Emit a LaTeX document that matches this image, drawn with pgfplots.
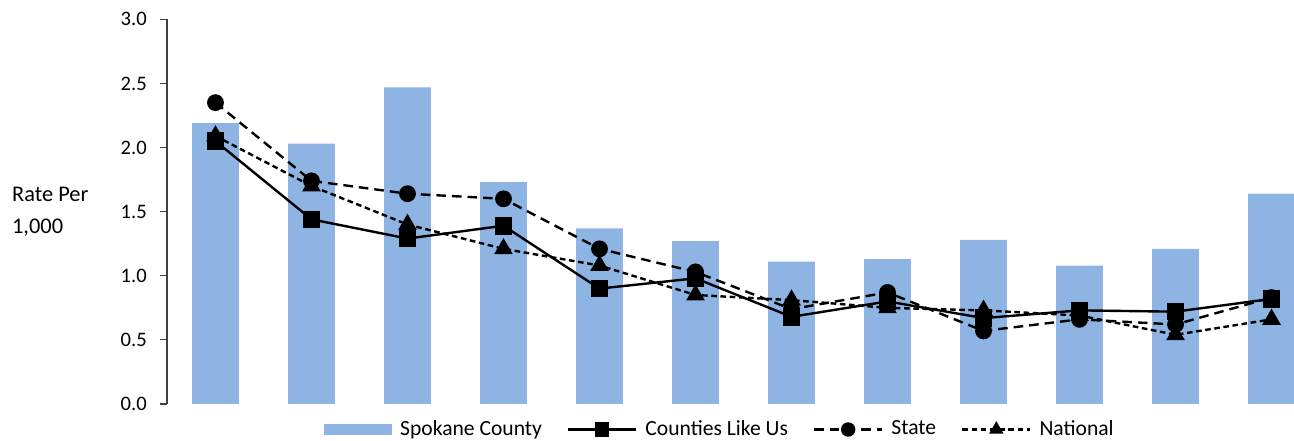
\documentclass[border=0pt]{standalone}
\usepackage{pgfplots}
\pgfplotsset{compat=1.18}
\usepackage{fontspec}
\setmainfont{Carlito}
\definecolor{barblue}{RGB}{142,180,227}
\definecolor{axgray}{RGB}{64,64,64}
\begin{document}
\fontsize{10.3bp}{12.4bp}\selectfont
\begin{tikzpicture}
\useasboundingbox (-83.5bp,-18.5bp) rectangle (563.5bp,202bp);
\begin{axis}[
  scale only axis,
  width=563.5bp, height=192.35bp,
  xmin=-0.505, xmax=11.234,
  ymin=0, ymax=3,
  ytick={0,0.5,1,1.5,2,2.5,3},
  yticklabel style={/pgf/number format/.cd, fixed, fixed zerofill, precision=1, /tikz/.cd, xshift=-3bp},
  /pgf/number format/assume math mode=true,
  axis lines*=left,
  x axis line style={draw=none},
  y axis line style={draw=axgray, line width=0.6bp},
  xtick=\empty,
  tick align=outside,
  major tick length=3.5bp,
  ytick style={draw=axgray, line width=0.6bp},
  clip=true,
  legend columns=4,
  legend style={draw=none, fill=none, at={(0.4915,-0.0663)}, anchor=center,
    font=\fontsize{10.8bp}{12.8bp}\selectfont,
    /tikz/every even column/.append style={column sep=10.5bp},
    /tikz/every odd column/.append style={column sep=2bp}},
  legend image code/.code={\draw[mark repeat=2,mark phase=2,#1,mark size=3bp] plot coordinates {(0bp,0bp) (17bp,0bp) (34bp,0bp)};},
]
\addplot[ybar, bar width=0.486, bar shift=0pt, fill=barblue, draw=none,
  legend image code/.code={\fill[barblue] (0bp,-2.9bp) rectangle (34bp,2.9bp);}]
  coordinates {(0,2.19) (1,2.03) (2,2.47) (3,1.73) (4,1.37) (5,1.27) (6,1.11) (7,1.13) (8,1.28) (9,1.08) (10,1.21) (11,1.64)};
\addlegendentry{Spokane County}
\addplot[black, line width=1.2bp, mark=square*, mark size=3.8bp, mark options={solid}]
  coordinates {(0,2.05) (1,1.44) (2,1.29) (3,1.39) (4,0.90) (5,0.98) (6,0.68) (7,0.80) (8,0.67) (9,0.73) (10,0.72) (11,0.82)};
\addlegendentry{Counties Like Us}
\addplot[black, line width=1.2bp, dash pattern=on 4.8bp off 3bp, mark=*, mark size=3.6bp, mark options={solid}]
  coordinates {(0,2.35) (1,1.74) (2,1.64) (3,1.60) (4,1.21) (5,1.03) (6,0.74) (7,0.87) (8,0.57) (9,0.66) (10,0.62) (11,0.83)};
\addlegendentry{State}
\addplot[black, line width=1.2bp, dash pattern=on 2.8bp off 1.8bp, mark=triangle*, mark size=4.2bp, mark options={solid}]
  coordinates {(0,2.09) (1,1.70) (2,1.40) (3,1.21) (4,1.08) (5,0.85) (6,0.81) (7,0.75) (8,0.73) (9,0.69) (10,0.54) (11,0.66)};
\addlegendentry{National}
\end{axis}
\node[anchor=base west, inner sep=0pt, font=\fontsize{11.2bp}{13bp}\selectfont] at (-77.65bp,101.15bp) {Rate Per};
\node[anchor=base west, inner sep=0pt, font=\fontsize{11.2bp}{13bp}\selectfont] at (-77.65bp,85.35bp) {1,000};
\end{tikzpicture}
\end{document}
